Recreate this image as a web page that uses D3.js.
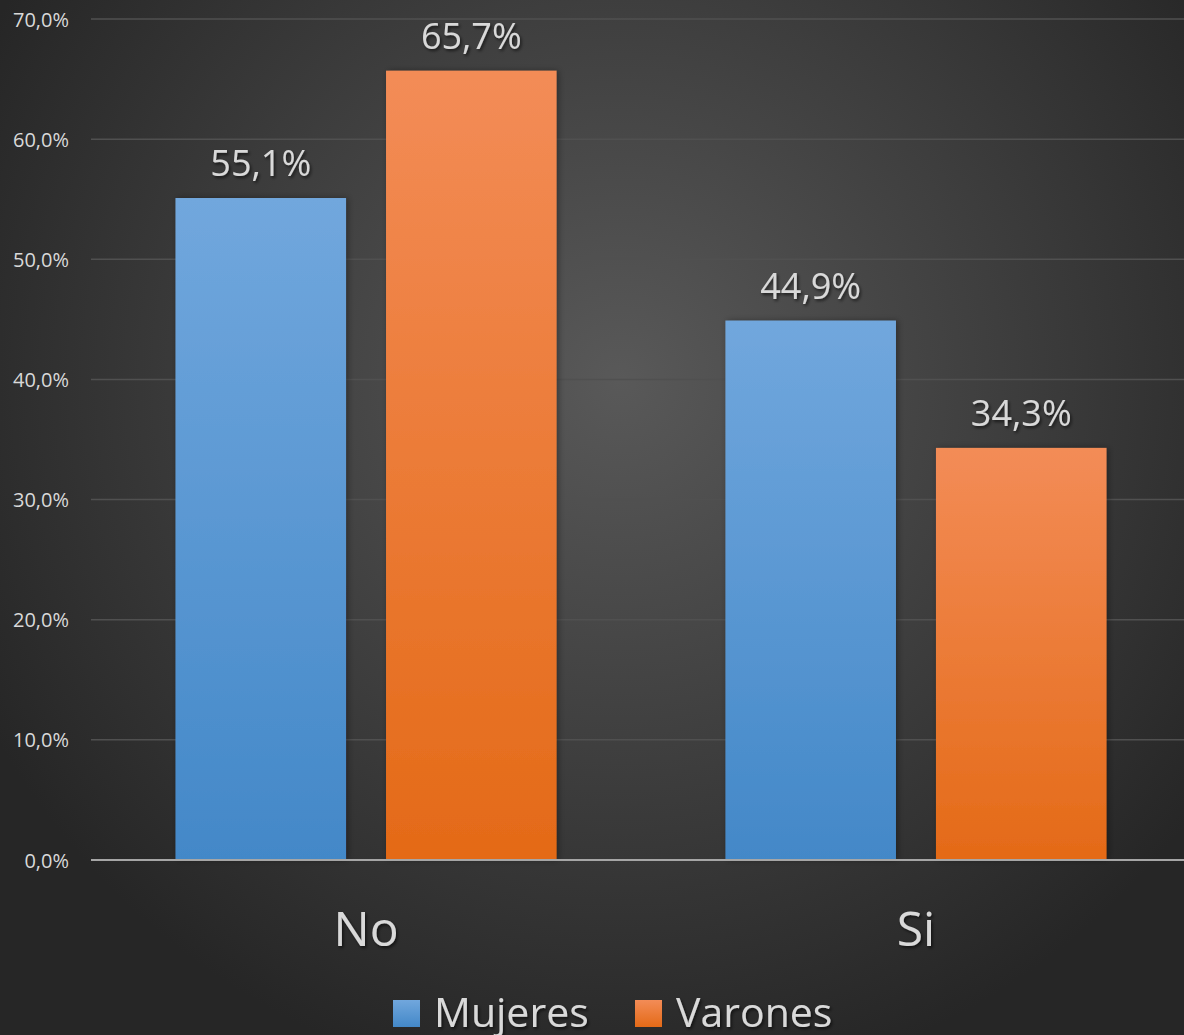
<!DOCTYPE html>
<html><head><meta charset="utf-8">
<script src="https://cdn.jsdelivr.net/npm/d3@7"></script>
<style>html,body{margin:0;padding:0;background:#2b2b2b;overflow:hidden}svg{display:block}</style>
</head><body>
<script>
const categories = ["No", "Si"];
const series = ["Mujeres", "Varones"];
const mujeres = [55.1, 44.9];
const varones = [65.7, 34.3];
const yTicks = [0, 10, 20, 30, 40, 50, 60, 70];

const W = 1184, H = 1035;
const font = "'Open Sans', 'Noto Sans', sans-serif";
const txt = "#d9d9d9";
const svg = d3.select("body").append("svg").attr("width", W).attr("height", H);
const defs = svg.append("defs");

const bg = defs.append("radialGradient").attr("id", "bg").attr("gradientUnits", "userSpaceOnUse")
  .attr("cx", 620).attr("cy", 380).attr("r", 720);
bg.append("stop").attr("offset", 0).attr("stop-color", "#595959");
bg.append("stop").attr("offset", 1).attr("stop-color", "#262626");

const colors = {Mujeres: ["#71a7dd", "#4388c8"], Varones: ["#f38c57", "#e46a17"]};
series.forEach(s => {
  const g = defs.append("linearGradient").attr("id", "g" + s).attr("x1", 0).attr("x2", 0).attr("y1", 0).attr("y2", 1);
  g.append("stop").attr("offset", 0).attr("stop-color", colors[s][0]);
  g.append("stop").attr("offset", 1).attr("stop-color", colors[s][1]);
});
const sh = defs.append("filter").attr("id", "ts").attr("x", "-20%").attr("y", "-20%").attr("width", "140%").attr("height", "160%");
sh.append("feDropShadow").attr("dx", 1.5).attr("dy", 2).attr("stdDeviation", 1.5).attr("flood-color", "#000").attr("flood-opacity", 0.6);
const bs = defs.append("filter").attr("id", "bs").attr("x", "-10%").attr("y", "-10%").attr("width", "125%").attr("height", "120%");
bs.append("feDropShadow").attr("dx", 2).attr("dy", 0).attr("stdDeviation", 3).attr("flood-color", "#000").attr("flood-opacity", 0.35);

svg.append("rect").attr("width", W).attr("height", H).attr("fill", "url(#bg)");

const y = d3.scaleLinear().domain([0, 70]).range([860, 19]);
const x0 = d3.scaleBand().domain(categories).range([91, 1191]).paddingInner(0.307).paddingOuter(0.1536);
const x1 = d3.scaleBand().domain(series).range([0, x0.bandwidth()]).paddingInner(0.19);

// gridlines
svg.append("g").selectAll("line").data(yTicks.filter(t => t > 0)).join("line")
  .attr("x1", 91).attr("x2", W).attr("y1", d => y(d)).attr("y2", d => y(d))
  .attr("stroke", "#505050").attr("stroke-width", 1.5);

// y axis labels
const yAxis = d3.axisLeft(y).tickValues(yTicks).tickSize(0).tickPadding(0)
  .tickFormat(d => d3.format(".1f")(d).replace(".", ",") + "%");
const ya = svg.append("g").attr("transform", "translate(69,0)").call(yAxis);
ya.select(".domain").remove();
ya.selectAll("text").attr("fill", txt).attr("font-family", font).attr("font-size", 20).attr("dy", "0.35em");

const data = categories.map((c, i) => ({cat: c, vals: [{s: "Mujeres", v: mujeres[i]}, {s: "Varones", v: varones[i]}]}));

const groups = svg.append("g").selectAll("g").data(data).join("g")
  .attr("transform", d => `translate(${x0(d.cat)},0)`);
groups.selectAll("rect").data(d => d.vals).join("rect")
  .attr("x", d => x1(d.s)).attr("width", x1.bandwidth())
  .attr("y", d => y(d.v)).attr("height", d => y(0) - y(d.v))
  .attr("fill", d => `url(#g${d.s})`).attr("filter", "url(#bs)");
groups.selectAll("text").data(d => d.vals).join("text")
  .attr("x", d => x1(d.s) + x1.bandwidth() / 2).attr("y", d => y(d.v) - 22)
  .attr("text-anchor", "middle").attr("fill", txt).attr("font-family", font).attr("font-size", 36)
  .attr("filter", "url(#ts)")
  .text(d => d3.format(".1f")(d.v).replace(".", ",") + "%");

// zero axis line
svg.append("line").attr("x1", 91).attr("x2", W).attr("y1", y(0)).attr("y2", y(0))
  .attr("stroke", "#a6a6a6").attr("stroke-width", 2);

// category labels
const xAxis = d3.axisBottom(x0).tickSize(0).tickPadding(0);
const xa = svg.append("g").attr("transform", `translate(0,${y(0)})`).call(xAxis);
xa.select(".domain").remove();
xa.selectAll("text").attr("fill", txt).attr("font-family", font).attr("font-size", 48)
  .attr("dy", 0).attr("y", 86).attr("filter", "url(#ts)");

// legend
const legendX = [393, 635];
const lg = svg.append("g").selectAll("g").data(series).join("g")
  .attr("transform", (d, i) => `translate(${legendX[i]},1000)`);
lg.append("rect").attr("width", 27).attr("height", 27).attr("fill", d => `url(#g${d})`);
lg.append("text").attr("x", 41).attr("y", 27).attr("fill", txt).attr("font-family", font).attr("font-size", 41)
  .attr("filter", "url(#ts)").text(d => d);
</script>
</body></html>
